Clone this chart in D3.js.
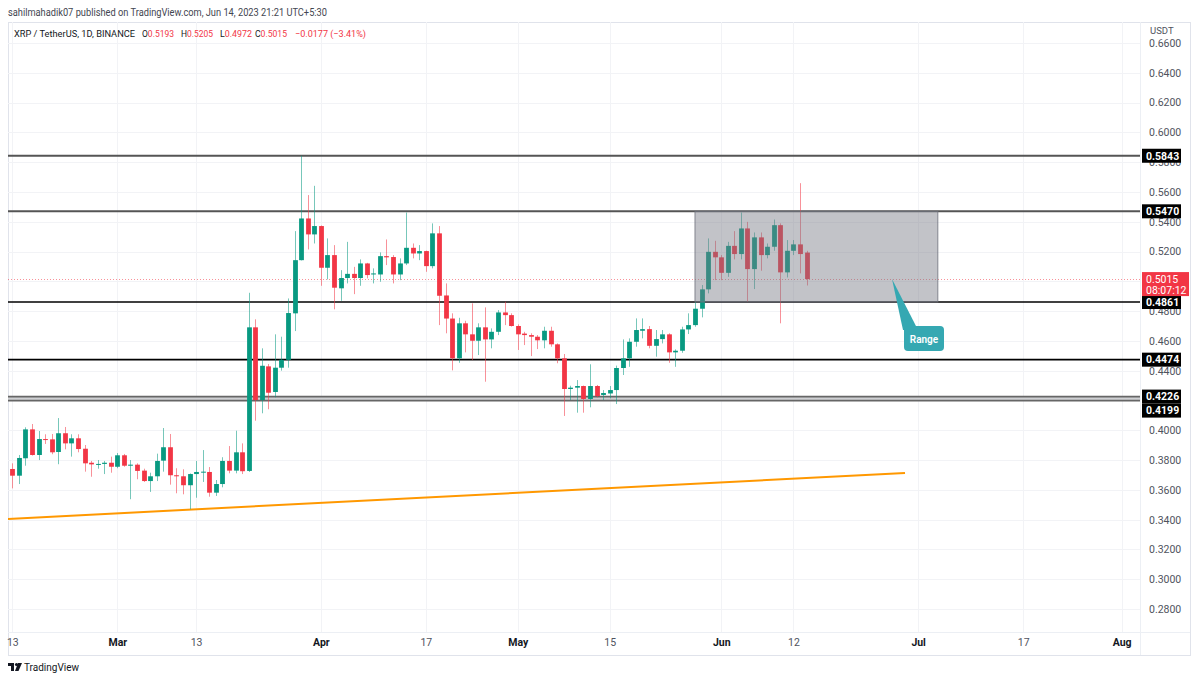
<!DOCTYPE html>
<html><head><meta charset="utf-8">
<script src="https://cdn.jsdelivr.net/npm/d3@7"></script>
<style>body{margin:0;background:#fff;} svg{display:block;font-family:Roboto,"Liberation Sans",sans-serif;}</style>
</head><body><svg id="c" width="1200" height="681"></svg>
<script>
const startDate = "2023-02-13";
const open = [
0.3740,0.3695,0.3812,0.4006,0.3834,0.3941,0.3939,0.3854,0.3980,0.3912,
0.3946,0.3876,0.3782,0.3769,0.3774,0.3782,0.3755,0.3832,0.3762,0.3769,
0.3729,0.3659,0.3691,0.3796,0.3886,0.3698,0.3691,0.3631,0.3706,0.3718,
0.3720,0.3581,0.3639,0.3794,0.3729,0.3852,0.3727,0.4691,0.4203,0.4429,
0.4257,0.4420,0.4473,0.4785,0.5142,0.5422,0.5315,0.5371,0.5091,0.5176,
0.4953,0.5022,0.5050,0.5022,0.5120,0.5046,0.5046,0.5169,0.5163,0.5046,
0.5120,0.5225,0.5187,0.5203,0.5102,0.5322,0.4905,0.4750,0.4483,0.4718,
0.4644,0.4601,0.4691,0.4610,0.4661,0.4791,0.4773,0.4700,0.4649,0.4639,
0.4628,0.4604,0.4668,0.4577,0.4483,0.4277,0.4286,0.4297,0.4210,0.4297,
0.4237,0.4247,0.4270,0.4418,0.4483,0.4594,0.4668,0.4679,0.4567,0.4612,
0.4644,0.4523,0.4534,0.4677,0.4706,0.4816,0.4946,0.5198,0.5161,0.5057,
0.5238,0.5183,0.5355,0.5082,0.5295,0.5176,0.5232,0.5377,0.5060,0.5205,
0.5248,0.5193];
const high = [
0.3778,0.3834,0.4020,0.4042,0.3995,0.3973,0.3975,0.4082,0.4022,0.3973,
0.3973,0.3901,0.3794,0.3800,0.3794,0.3823,0.3847,0.3841,0.3800,0.3778,
0.3742,0.3715,0.3843,0.4015,0.3975,0.3745,0.3738,0.3710,0.3794,0.3867,
0.3753,0.3666,0.3819,0.3894,0.3997,0.3912,0.4923,0.4745,0.4550,0.4445,
0.4644,0.4628,0.4885,0.5337,0.5843,0.5579,0.5641,0.5375,0.5288,0.5243,
0.5075,0.5265,0.5097,0.5147,0.5124,0.5087,0.5194,0.5281,0.5176,0.5154,
0.5462,0.5254,0.5243,0.5206,0.5389,0.5371,0.4986,0.4785,0.4755,0.4735,
0.4852,0.4718,0.4825,0.4684,0.4807,0.4863,0.4785,0.4711,0.4661,0.4651,
0.4639,0.4695,0.4695,0.4583,0.4512,0.4299,0.4337,0.4300,0.4443,0.4304,
0.4270,0.4297,0.4434,0.4610,0.4617,0.4751,0.4751,0.4700,0.4673,0.4673,
0.4651,0.4543,0.4695,0.4785,0.4863,0.4975,0.5288,0.5272,0.5176,0.5265,
0.5337,0.5462,0.5399,0.5328,0.5328,0.5254,0.5415,0.5389,0.5277,0.5277,
0.5659,0.5205];
const low = [
0.3610,0.3639,0.3762,0.3830,0.3800,0.3908,0.3839,0.3772,0.3872,0.3823,
0.3852,0.3722,0.3688,0.3742,0.3706,0.3715,0.3745,0.3755,0.3537,0.3671,
0.3653,0.3586,0.3659,0.3722,0.3635,0.3577,0.3570,0.3470,0.3547,0.3653,
0.3554,0.3559,0.3617,0.3711,0.3711,0.3706,0.3720,0.4064,0.4114,0.4141,
0.4221,0.4400,0.4420,0.4666,0.5140,0.5214,0.5254,0.4970,0.5013,0.4812,
0.4869,0.4986,0.4914,0.4970,0.5020,0.4986,0.4997,0.5109,0.4986,0.5008,
0.5109,0.5154,0.5142,0.5064,0.5087,0.4706,0.4651,0.4402,0.4453,0.4523,
0.4471,0.4505,0.4326,0.4550,0.4639,0.4706,0.4696,0.4539,0.4572,0.4498,
0.4545,0.4550,0.4561,0.4450,0.4096,0.4203,0.4118,0.4118,0.4154,0.4221,
0.4203,0.4214,0.4176,0.4371,0.4426,0.4561,0.4617,0.4550,0.4494,0.4583,
0.4453,0.4426,0.4520,0.4646,0.4695,0.4758,0.4919,0.5008,0.5008,0.5030,
0.5147,0.5147,0.4863,0.4948,0.5071,0.5154,0.5205,0.4718,0.5026,0.5176,
0.5053,0.4972];
const close = [
0.3695,0.3814,0.4006,0.3834,0.3941,0.3937,0.3852,0.3980,0.3912,0.3946,
0.3874,0.3778,0.3771,0.3774,0.3782,0.3755,0.3832,0.3762,0.3769,0.3727,
0.3659,0.3691,0.3794,0.3886,0.3698,0.3691,0.3631,0.3706,0.3720,0.3722,
0.3581,0.3639,0.3794,0.3729,0.3852,0.3725,0.4691,0.4203,0.4433,0.4252,
0.4420,0.4473,0.4787,0.5142,0.5422,0.5315,0.5371,0.5091,0.5176,0.4957,
0.5022,0.5050,0.5022,0.5120,0.5042,0.5053,0.5169,0.5161,0.5046,0.5120,
0.5225,0.5187,0.5203,0.5102,0.5322,0.4903,0.4750,0.4483,0.4718,0.4644,
0.4601,0.4691,0.4610,0.4661,0.4791,0.4773,0.4700,0.4644,0.4639,0.4628,
0.4604,0.4668,0.4577,0.4483,0.4277,0.4286,0.4297,0.4210,0.4297,0.4230,
0.4250,0.4270,0.4418,0.4483,0.4594,0.4673,0.4679,0.4567,0.4612,0.4644,
0.4523,0.4534,0.4677,0.4706,0.4816,0.4946,0.5198,0.5161,0.5057,0.5238,
0.5183,0.5355,0.5082,0.5295,0.5176,0.5232,0.5377,0.5060,0.5205,0.5248,
0.5183,0.5015];

const levels = [0.5843, 0.5470, 0.4861, 0.4474, 0.4226, 0.4199];
const levelColors = ["#555", "#555", "#000", "#000", "#666", "#666"];
const lastPrice = 0.5015;
const countdown = "08:07:12";
const priceTicks = [0.28,0.30,0.32,0.34,0.36,0.38,0.40,0.44,0.46,0.48,0.52,0.54,0.56,0.58,0.60,0.62,0.64,0.66];
const gridTicks = [0.28,0.30,0.32,0.34,0.36,0.38,0.40,0.42,0.44,0.46,0.48,0.50,0.52,0.54,0.56,0.58,0.60,0.62,0.64,0.66];
const timeTickDates = ["2023-02-13","2023-03-01","2023-03-13","2023-04-01","2023-04-17","2023-05-01","2023-05-15","2023-06-01","2023-06-12","2023-07-01","2023-07-17","2023-08-01"];
const timeTickLabels = ["13","Mar","13","Apr","17","May","15","Jun","12","Jul","17","Aug"];
const rangeDates = ["2023-05-28","2023-07-04"];
const rangePrices = [0.5470, 0.4861];
const trendDates = ["2023-02-12","2023-06-29"];
const trendPrices = [0.3404, 0.3713];

const GREEN = "#089981", RED = "#f23645";
const DAY = 864e5;
const parse = s => new Date(s + "T00:00:00Z");
const t0 = parse(startDate);
const dates = open.map((_, i) => new Date(+t0 + i * DAY));

const L = 8, R = 1140, T = 22, B = 632;
const x = d3.scaleUtc().domain([new Date(+t0 - 0.66 * DAY), new Date(+t0 + 171.8 * DAY)]).range([L, R]);
const y = d3.scaleLinear().domain([0.28, 0.66]).range([609, 43]);

const svg = d3.select("#c");
svg.append("rect").attr("width", 1200).attr("height", 681).attr("fill", "#fff");

svg.append("defs").append("clipPath").attr("id", "clip")
  .append("rect").attr("x", L).attr("y", T).attr("width", R - L).attr("height", B - T);

// frame
svg.append("rect").attr("x", L + 0.5).attr("y", T + 0.5).attr("width", 1190 - L).attr("height", 655 - T)
  .attr("fill", "none").attr("stroke", "#e0e3eb");
svg.append("line").attr("x1", R + 0.5).attr("x2", R + 0.5).attr("y1", T).attr("y2", 655).attr("stroke", "#eceff4");
svg.append("line").attr("x1", L).attr("x2", 1190).attr("y1", B + 0.5).attr("y2", B + 0.5).attr("stroke", "#eceff4");

const plot = svg.append("g").attr("clip-path", "url(#clip)");

// grid
plot.selectAll(".hg").data(gridTicks).join("line")
  .attr("x1", L).attr("x2", R).attr("y1", d => Math.round(y(d)) + 0.5).attr("y2", d => Math.round(y(d)) + 0.5)
  .attr("stroke", "#f2f3f6");
plot.selectAll(".vg").data(timeTickDates).join("line")
  .attr("y1", T).attr("y2", B).attr("x1", d => Math.round(x(parse(d))) + 0.5).attr("x2", d => Math.round(x(parse(d))) + 0.5)
  .attr("stroke", "#f2f3f6");

// trend line
plot.append("line")
  .attr("x1", x(parse(trendDates[0]))).attr("y1", y(trendPrices[0]))
  .attr("x2", x(parse(trendDates[1]))).attr("y2", y(trendPrices[1]))
  .attr("stroke", "#ff9800").attr("stroke-width", 2);

// levels
plot.append("rect").attr("x", L).attr("width", R - L)
  .attr("y", y(levels[4])).attr("height", y(levels[5]) - y(levels[4])).attr("fill", "#cfd0d3");
plot.selectAll(".lvl").data(levels).join("line")
  .attr("x1", L).attr("x2", R).attr("y1", d => y(d)).attr("y2", d => y(d))
  .attr("stroke", (d, i) => levelColors[i]).attr("stroke-width", (d, i) => i < 2 ? 2 : 1.6);

// last price dotted line
plot.append("line").attr("x1", L).attr("x2", R)
  .attr("y1", Math.round(y(lastPrice)) + 0.5).attr("y2", Math.round(y(lastPrice)) + 0.5)
  .attr("stroke", RED).attr("stroke-opacity", 0.55).attr("stroke-dasharray", "1,2");

// candles
const idx = d3.range(open.length);
const cx = i => Math.round(x(dates[i])) + 0.5;
const col = i => close[i] >= open[i] ? GREEN : RED;
plot.selectAll(".wick").data(idx).join("line")
  .attr("x1", cx).attr("x2", cx).attr("y1", i => y(high[i])).attr("y2", i => y(low[i]))
  .attr("stroke", col).attr("stroke-opacity", 0.55).attr("stroke-width", 1);
plot.selectAll(".body").data(idx).join("rect")
  .attr("x", i => cx(i) - 2.4).attr("width", 4.8)
  .attr("y", i => y(Math.max(open[i], close[i])))
  .attr("height", i => Math.max(1, Math.abs(y(open[i]) - y(close[i]))))
  .attr("fill", col);

// range box
const rx0 = x(parse(rangeDates[0])), rx1 = x(parse(rangeDates[1]));
plot.append("rect").attr("x", rx0).attr("width", rx1 - rx0)
  .attr("y", y(rangePrices[0])).attr("height", y(rangePrices[1]) - y(rangePrices[0]))
  .attr("fill", "rgba(120,123,134,0.45)").attr("stroke", "rgba(110,113,124,0.8)").attr("stroke-width", 1);

// callout
const TEAL = "#35a8b2";
svg.append("path").attr("d", "M892,279 L903,330 L918,330 Z").attr("fill", TEAL);
svg.append("rect").attr("x", 904).attr("y", 326).attr("width", 40).attr("height", 25).attr("rx", 4).attr("fill", TEAL);
svg.append("text").attr("x", 924).attr("y", 342.5).attr("text-anchor", "middle")
  .attr("font-size", 10).attr("font-weight", 600).attr("fill", "#fff").text("Range");

// price axis
const pa = svg.append("g").attr("transform", `translate(1149,0)`)
  .call(d3.axisRight(y).tickValues(priceTicks).tickFormat(d3.format(".4f")).tickSize(0).tickPadding(0));
pa.select(".domain").remove();
pa.selectAll("text").attr("font-size", 10.5).attr("fill", "#50535e").attr("font-family", "Roboto,'Liberation Sans',sans-serif");
svg.append("text").attr("x", 1150).attr("y", 34).attr("font-size", 9.5).attr("fill", "#50535e").text("USDT");

// level labels with collision avoidance
const lab = levels.map(v => ({v, y: y(v)})).sort((a, b) => a.y - b.y);
for (let i = 1; i < lab.length; i++) if (lab[i].y - lab[i - 1].y < 14) lab[i].y = lab[i - 1].y + 14;
const lg = svg.append("g");
lg.selectAll("rect").data(lab).join("rect")
  .attr("x", 1142).attr("width", 39).attr("y", d => d.y - 7).attr("height", 14).attr("fill", "#000");
lg.selectAll("text").data(lab).join("text")
  .attr("x", 1146).attr("y", d => d.y + 3.8).attr("font-size", 10.5).attr("font-weight", 700).attr("fill", "#fff")
  .text(d => d.v.toFixed(4));

// current price label
const yl = y(lastPrice);
svg.append("rect").attr("x", 1142).attr("y", yl - 7).attr("width", 47).attr("height", 24).attr("fill", RED);
svg.append("text").attr("x", 1146).attr("y", yl + 3.8).attr("font-size", 10.5).attr("fill", "#fff").text(lastPrice.toFixed(4));
svg.append("text").attr("x", 1146).attr("y", yl + 15).attr("font-size", 10.5).attr("fill", "#fff").text(countdown);

// time axis
const ta = svg.append("g").attr("transform", `translate(0,${B})`)
  .call(d3.axisBottom(x).tickValues(timeTickDates.map(parse)).tickFormat((d, i) => timeTickLabels[i]).tickSize(0).tickPadding(7));
ta.select(".domain").remove();
ta.selectAll("text").attr("font-size", 10.5).attr("font-family", "Roboto,'Liberation Sans',sans-serif")
  .attr("font-weight", (d, i) => /^[A-Z]/.test(timeTickLabels[i]) ? 700 : 400)
  .attr("fill", (d, i) => /^[A-Z]/.test(timeTickLabels[i]) ? "#131722" : "#50535e");

// header
svg.append("text").attr("x", 8).attr("y", 16).attr("font-size", 10).attr("fill", "#434651")
  .attr("textLength", 319).attr("lengthAdjust", "spacingAndGlyphs")
  .text("sahilmahadik07 published on TradingView.com, Jun 14, 2023 21:21 UTC+5:30");

// legend
const oi = open.length - 1;
const legY = 37, legFs = 9.5;
svg.append("text").attr("x", 14).attr("y", legY).attr("font-size", legFs).attr("fill", "#131722")
  .attr("textLength", 121).attr("lengthAdjust", "spacingAndGlyphs").text("XRP / TetherUS, 1D, BINANCE");
const ohlc = [["O", open[oi], 142], ["H", high[oi], 181], ["L", low[oi], 220], ["C", close[oi], 255]];
ohlc.forEach(([k, v, px]) => {
  const t = svg.append("text").attr("x", px).attr("y", legY).attr("font-size", legFs)
    .attr("textLength", 32).attr("lengthAdjust", "spacingAndGlyphs");
  t.append("tspan").attr("fill", "#131722").text(k);
  t.append("tspan").attr("fill", RED).text(v.toFixed(4));
});
svg.append("text").attr("x", 295).attr("y", legY).attr("font-size", legFs).attr("fill", RED)
  .attr("textLength", 71).attr("lengthAdjust", "spacingAndGlyphs")
  .text("\u22120.0177 (\u22123.41%)");

// footer logo
const lgo = svg.append("g").attr("fill", "#131722");
lgo.append("rect").attr("x", 8).attr("y", 663).attr("width", 6).attr("height", 3);
lgo.append("rect").attr("x", 11).attr("y", 663).attr("width", 3).attr("height", 8);
lgo.append("circle").attr("cx", 16.5).attr("cy", 664.5).attr("r", 1.6);
lgo.append("path").attr("d", "M18,663 L22,663 L18.5,671 L15,671 Z");
svg.append("text").attr("x", 24).attr("y", 671).attr("font-size", 10).attr("fill", "#131722").text("TradingView");
</script></body></html>
